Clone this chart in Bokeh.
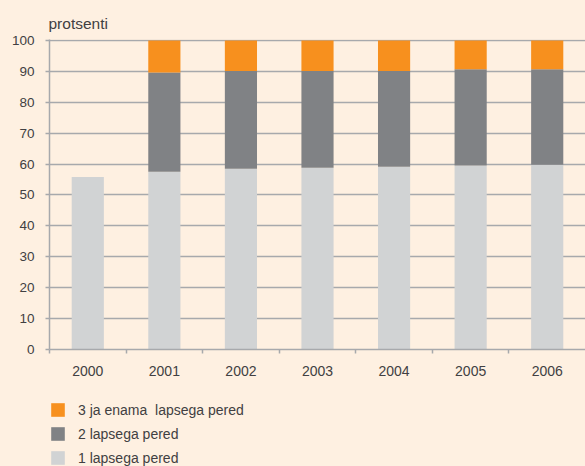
from bokeh.plotting import figure
from bokeh.models import Range1d, FixedTicker, Legend, LegendItem
from bokeh.layouts import column
from bokeh.embed import file_html
from bokeh.resources import INLINE

years = [2000, 2001, 2002, 2003, 2004, 2005, 2006]
one_child = [55.8, 57.5, 58.5, 58.8, 59.1, 59.5, 59.8]
two_children = [0.0, 32.1, 31.6, 31.3, 31.0, 31.2, 30.9]
three_plus = [0.0, 10.4, 9.9, 9.9, 9.9, 9.3, 9.3]
y_ticks = [0, 10, 20, 30, 40, 50, 60, 70, 80, 90, 100]
series_names = ["1 lapsega pered", "2 lapsega pered", "3 ja enama  lapsega pered"]
colors = ["#D1D3D4", "#808285", "#F7901E"]

BG = "#FEF0E1"
TXT = "#414042"
GRID = "#A7A9AC"
FONT = "Liberation Sans"

data = {"year": years, "s1": one_child, "s2": two_children, "s3": three_plus}

p = figure(width=585, height=382, output_backend="svg", toolbar_location=None,
           x_range=Range1d(years[0] - 0.5, years[-1] + 0.5),
           y_range=Range1d(0, 100.3),
           min_border_left=49, min_border_right=0, min_border_top=39,
           min_border_bottom=33)
p.background_fill_color = BG
p.border_fill_color = BG
p.outline_line_color = None

p.vbar_stack(["s1", "s2", "s3"], x="year", width=0.42, color=colors,
             source=data, line_color=None)

# title
p.title.text = "protsenti"
p.title.align = "left"
p.title.offset = -1
p.title.text_font = FONT
p.title.text_font_size = "15.5px"
p.title.text_font_style = "normal"
p.title.text_color = TXT
p.title.standoff = 16

# x axis
xa = p.xaxis[0]
xa.ticker = FixedTicker(ticks=years, minor_ticks=[y - 0.5 for y in years])
xa.major_tick_line_color = None
xa.major_tick_out = 0
xa.major_tick_in = 0
xa.minor_tick_line_color = GRID
xa.minor_tick_line_width = 1.5
xa.minor_tick_out = 4
xa.minor_tick_in = 0
xa.axis_line_color = GRID
xa.axis_line_width = 1.5
xa.major_label_text_font = FONT
xa.major_label_text_font_size = "14px"
xa.major_label_text_color = TXT
xa.major_label_standoff = 12

# y axis
ya = p.yaxis[0]
ya.ticker = FixedTicker(ticks=y_ticks, minor_ticks=[])
ya.major_tick_line_color = GRID
ya.major_tick_line_width = 1.5
ya.major_tick_out = 4
ya.major_tick_in = 0
ya.axis_line_color = GRID
ya.axis_line_width = 1.5
ya.major_label_text_font = FONT
ya.major_label_text_font_size = "13.5px"
ya.major_label_text_color = TXT
ya.major_label_standoff = 11

p.xgrid.grid_line_color = None
p.ygrid.ticker = FixedTicker(ticks=y_ticks, minor_ticks=[])
p.ygrid.grid_line_color = GRID
p.ygrid.grid_line_width = 1.5

# legend panel (same series, kept outside the visible range; only the legend shows)
q = figure(width=585, height=84, output_backend="svg", toolbar_location=None,
           x_range=Range1d(0, 1), y_range=Range1d(0, 1),
           x_axis_location=None, y_axis_location=None,
           min_border=0, min_border_left=0, min_border_right=0,
           min_border_top=0, min_border_bottom=0)
q.background_fill_color = None
q.border_fill_color = BG
q.outline_line_color = None
q.grid.grid_line_color = None

legend_renderers = q.vbar_stack(["s1", "s2", "s3"], x="year", width=0.42,
                                color=colors, source=data, line_color=None)
items = [LegendItem(label=series_names[i], renderers=[legend_renderers[i]])
         for i in [2, 1, 0]]
legend = Legend(items=items, location=(0, 0), orientation="vertical",
                glyph_width=17, glyph_height=17, label_height=14, spacing=7,
                padding=0, margin=0, label_standoff=12,
                label_text_font=FONT, label_text_font_size="14px",
                label_text_color=TXT, border_line_color=None,
                background_fill_alpha=0)
q.add_layout(legend, "center")

layout = column(p, q, spacing=0, styles={"background-color": BG})
open("out.html", "w").write(file_html(layout, INLINE))
